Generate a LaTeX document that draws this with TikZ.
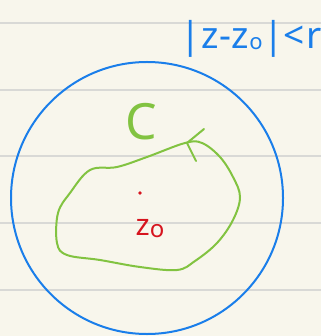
\documentclass[tikz,border=0pt]{standalone}
\usepackage{fontspec}
\setmainfont{Noto Sans}
\definecolor{paper}{HTML}{F8F6EC}
\definecolor{rule}{HTML}{D9D9D6}
\definecolor{inkblue}{HTML}{1A7EEA}
\definecolor{inkgreen}{HTML}{82C341}
\definecolor{inkred}{HTML}{D6141E}
\begin{document}
\begin{tikzpicture}[x=1pt,y=-1pt,
  ruleline/.style={rule,line width=1.2pt},
  bluepen/.style={inkblue,line width=2pt},
  greenpen/.style={inkgreen,line width=2pt,line cap=round,line join=round},
  lbl/.style={inner sep=0pt,anchor=center}]
\fill[paper] (0,0) rectangle (321,336);
\useasboundingbox (0,0) rectangle (321,336);
\foreach \yy in {23,90,156,223,290} \draw[ruleline] (0,\yy) -- (321,\yy);
% disk
\draw[bluepen] (147,198) circle (136);
% title
\node[lbl,inkblue,anchor=west] (title) at (180,39) {\fontsize{37}{37}\selectfont |\kern1pt z\kern0.5pt-\kern0.5pt z\raisebox{-1pt}{\fontsize{22}{22}\selectfont o}\kern1pt|<\kern1pt r};
% contour
\draw[greenpen] plot[smooth cycle,tension=0.6] coordinates {
 (185,143) (202,143) (220,157) (233,177) (240,197) (233,220) (217,243)
 (195,261) (177,270) (140,267) (100,260) (67,255) (57,243) (58,213)
 (70,193) (90,170) (117,167) (147,157)};
\coordinate (tip) at (187,143);
\coordinate (wa) at (204,129);
\coordinate (wb) at (196,161);
\draw[greenpen] (wa) -- (tip) -- (wb);
\node[lbl,inkgreen] (C) at (141,122) {\fontsize{50}{50}\selectfont C};
% point
\fill[inkred] (140,193) circle (1.8);
\node[lbl,inkred] (z0) at (150,229) {\fontsize{30}{30}\selectfont z\raisebox{-2pt}{\fontsize{24}{24}\selectfont o}};
\end{tikzpicture}
\end{document}
